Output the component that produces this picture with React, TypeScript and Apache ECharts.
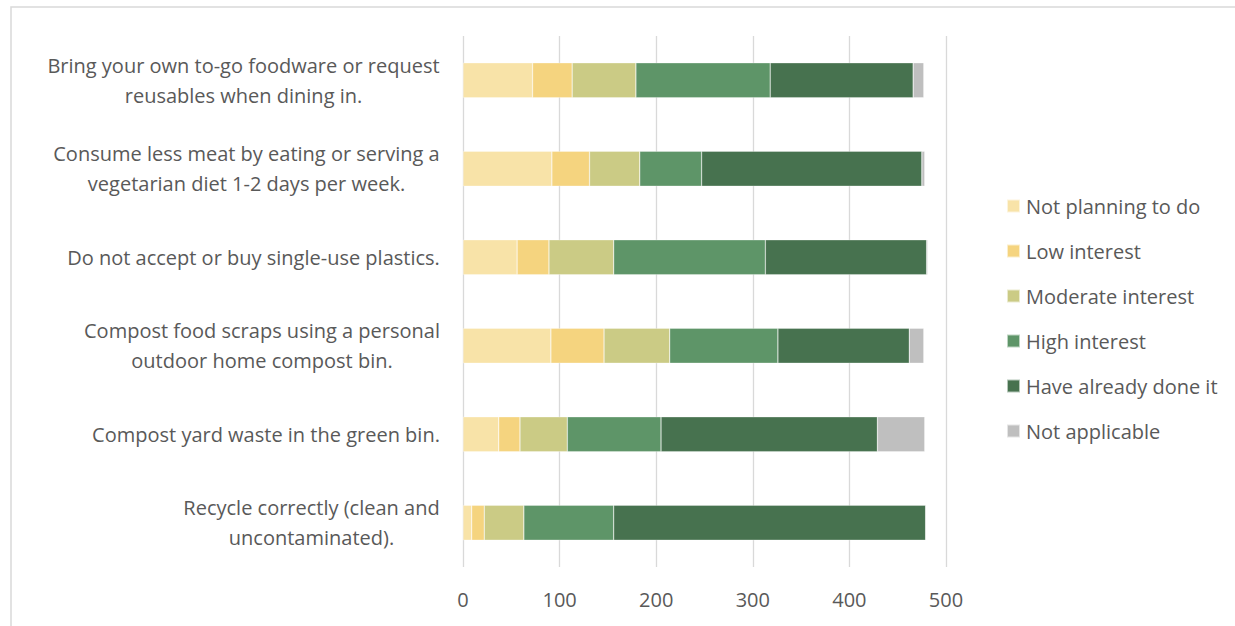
import React, { useEffect, useRef } from "react";
import * as echarts from "echarts";

const categories = [
  "Bring your own to-go foodware or request\nreusables when dining in.",
  "Consume less meat by eating or serving a\nvegetarian diet 1-2 days per week.",
  "Do not accept or buy single-use plastics.",
  "Compost food scraps using a personal\noutdoor home compost bin.",
  "Compost yard waste in the green bin.",
  "Recycle correctly (clean and\nuncontaminated).",
];

const seriesNames = [
  "Not planning to do",
  "Low interest",
  "Moderate interest",
  "High interest",
  "Have already done it",
  "Not applicable",
];

const notPlanning = [72, 92, 56, 91, 37, 9];
const lowInterest = [41, 39, 33, 55, 22, 13];
const moderateInterest = [66, 52, 67, 68, 49, 41];
const highInterest = [139, 64, 157, 112, 97, 93];
const alreadyDone = [148, 228, 167, 136, 224, 323];
const notApplicable = [11, 3, 1, 15, 49, 0];

const xTicks = { min: 0, max: 500, interval: 100 };

const colors = ["#F8E3A8", "#F5D47F", "#CBCB85", "#5E9568", "#47724F", "#BFBFBF"];

const FONT_FAMILY = "'Open Sans', 'Noto Sans', sans-serif";
const FONT_SIZE = 20;

export default function App() {
  const ref = useRef<HTMLDivElement>(null);
  useEffect(() => {
    document.body.style.margin = "0";
    if (!ref.current) return;
    const chart = echarts.init(ref.current, null, { renderer: "svg" });

    const canvas = document.createElement("canvas");
    const ctx = canvas.getContext("2d")!;
    ctx.font = `${FONT_SIZE}px ${FONT_FAMILY}`;
    const rich: Record<string, any> = {};
    categories.forEach((c, i) => {
      const w = Math.max(...c.split("\n").map((l) => ctx.measureText(l).width));
      rich["c" + i] = {
        width: Math.ceil(w) + 2,
        align: "center",
        fontSize: FONT_SIZE,
        fontFamily: FONT_FAMILY,
        color: "#595959",
        lineHeight: 30,
      };
    });

    const dataSets = [notPlanning, lowInterest, moderateInterest, highInterest, alreadyDone, notApplicable];

    chart.setOption({
      animation: false,
      color: colors,
      textStyle: { fontFamily: FONT_FAMILY },
      grid: { left: 463, right: 289, top: 36, bottom: 59, containLabel: false },
      legend: {
        orient: "vertical",
        left: 1006,
        top: 196,
        padding: 0,
        itemWidth: 13,
        itemHeight: 13,
        itemGap: 25,
        icon: "rect",
        textStyle: { fontSize: FONT_SIZE, color: "#595959", fontFamily: FONT_FAMILY, padding: [0, 0, 0, 1] },
        data: seriesNames,
      },
      xAxis: {
        type: "value",
        min: xTicks.min,
        max: xTicks.max,
        interval: xTicks.interval,
        axisLine: { show: false },
        axisTick: { show: false },
        axisLabel: { fontSize: FONT_SIZE, color: "#595959", margin: 22, fontFamily: FONT_FAMILY },
        splitLine: { show: true, lineStyle: { color: "#D9D9D9", width: 1.3 } },
      },
      yAxis: {
        type: "category",
        inverse: true,
        data: categories,
        axisLine: { show: false },
        axisTick: { show: false },
        splitLine: { show: false },
        axisLabel: {
          margin: 22,
          align: "right",
          formatter: (value: string, index: number) =>
            value
              .split("\n")
              .map((l) => `{c${index}|${l}}`)
              .join("\n"),
          rich,
        },
      },
      graphic: [
        {
          type: "rect",
          shape: { x: 11, y: 7, width: 1400, height: 800 },
          style: { fill: "none", stroke: "#D9D9D9", lineWidth: 1.5 },
          silent: true,
          z: -10,
        },
      ],
      series: seriesNames.map((name, i) => ({
        name,
        type: "bar",
        stack: "total",
        barWidth: "39.5%",
        data: dataSets[i],
        itemStyle: { color: colors[i], borderColor: "rgba(255,255,255,0.6)", borderWidth: 0.5 },
      })),
    });
    return () => chart.dispose();
  }, []);
  return <div ref={ref} style={{ width: 1235, height: 626 }} />;
}
